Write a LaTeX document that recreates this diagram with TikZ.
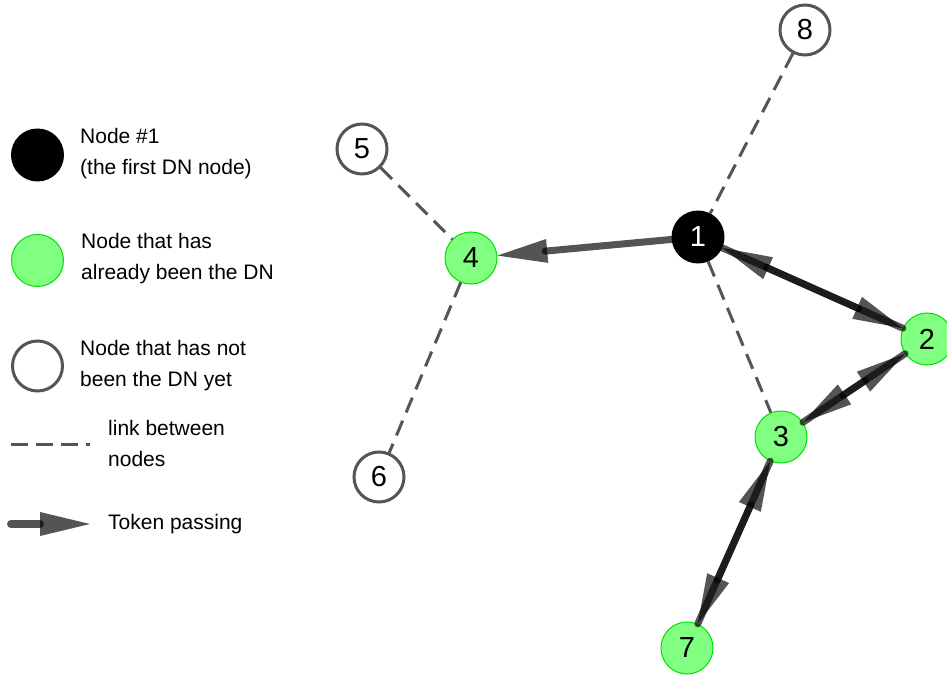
\documentclass[tikz,border=0pt]{standalone}
\usepackage{fontspec}
\setmainfont{Liberation Sans}
\usetikzlibrary{decorations.markings}
\definecolor{lgreen}{HTML}{80FF80}
\definecolor{dgreen}{HTML}{00E000}
\definecolor{lgray}{HTML}{555555}
\begin{document}
\begin{tikzpicture}[x=1pt,y=-1pt,
  numfont/.style={font=\fontsize{29}{32}\selectfont},
  firstnode/.style={circle,fill=black,text=white,minimum size=53pt,inner sep=0pt,numfont},
  donenode/.style={circle,fill=lgreen,draw=dgreen,line width=1pt,minimum size=52pt,inner sep=0pt,numfont},
  newnode/.style={circle,fill=white,draw=lgray,line width=3pt,minimum size=50pt,inner sep=0pt,numfont},
  linkline/.style={draw=lgray,line width=3pt,dash pattern=on 16pt off 9pt},
  tokline/.style={draw=black,line width=7pt,line cap=round,draw opacity=0.67,shorten >=48pt,
    postaction={decorate,decoration={markings,
      mark=at position 1 with {\fill[black,fill opacity=0.67] (-50pt,-12pt) -- (0pt,0pt) -- (-50pt,12pt) -- cycle;}}}},
  legtext/.style={anchor=west,align=left,inner sep=0pt,font=\fontsize{21}{31}\selectfont}
]
\useasboundingbox (0,0) rectangle (947,679);

% graph nodes
\node[firstnode] (n1) at (698,237) {1};
\node[donenode] (n2) at (927,339) {2};
\node[donenode] (n3) at (781,437) {3};
\node[donenode] (n4) at (471,258) {4};
\node[newnode] (n5) at (362,149) {5};
\node[newnode] (n6) at (379,477) {6};
\node[donenode] (n7) at (687,648) {7};
\node[newnode] (n8) at (805,30) {8};

% links
\draw[linkline] (n8) -- (n1);
\draw[linkline] (n1) -- (n3);
\draw[linkline] (n5) -- (n4);
\draw[linkline] (n4) -- (n6);

% token passing
\draw[tokline] (n1) -- (n4);
\draw[tokline] (n1) -- (n2);
\draw[tokline] (n2) -- (n1);
\draw[tokline] (n2) -- (n3);
\draw[tokline] (n3) -- (n2);
\draw[tokline] (n3) -- (n7);
\draw[tokline] (n7) -- (n3);

% legend
\node[firstnode] (l1) at (37.5,155) {};
\node[legtext] (t1) at (80,154) {Node \#1\\(the first DN node)};
\node[donenode] (l2) at (37.5,260.5) {};
\node[legtext] (t2) at (81,259) {Node that has\\already been the DN};
\node[newnode] (l3) at (37.5,366) {};
\node[legtext] (t3) at (80,365.5) {Node that has not\\been the DN yet};
\coordinate (d1) at (11,444);
\coordinate (d2) at (90,444);
\draw[linkline,dash pattern=on 17pt off 8pt] (d1) -- (d2);
\node[legtext] (t4) at (108,443) {link between\\nodes};
\coordinate (a1) at (11,524);
\coordinate (a2) at (90,524);
\draw[tokline,line width=8pt,shorten >=50pt] (a1) -- (a2);
\node[legtext] (t5) at (108,524) {Token passing};
\end{tikzpicture}
\end{document}
